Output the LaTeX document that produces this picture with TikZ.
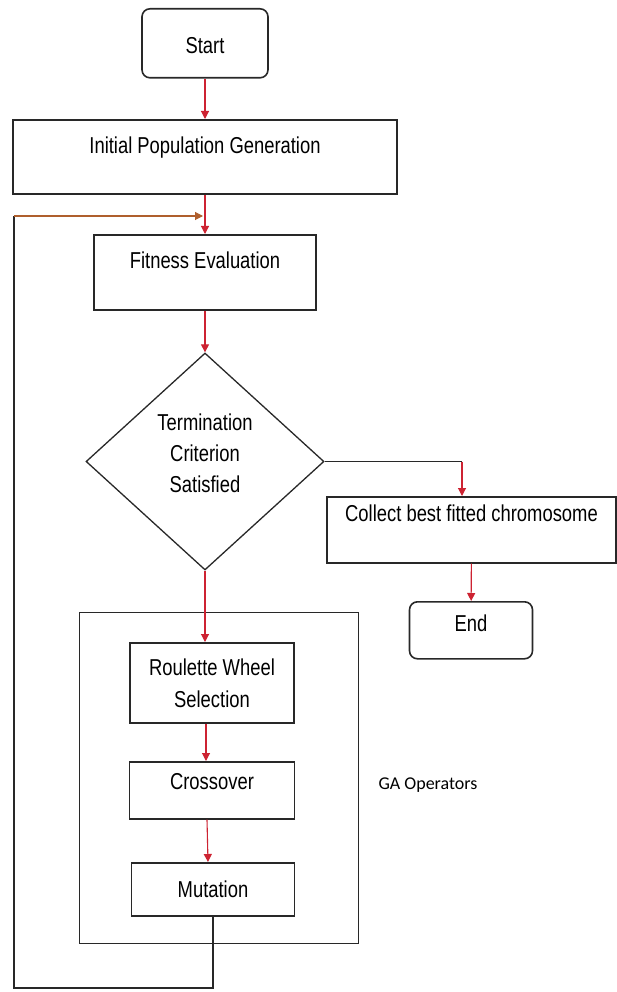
\documentclass[tikz,border=0pt]{standalone}
\usepackage{fontspec}
\setmainfont{Liberation Sans}[FakeStretch=0.80]
\newfontfamily\gafont{Carlito}
\usetikzlibrary{shapes.geometric,arrows.meta}
\definecolor{arrred}{RGB}{205,35,50}
\definecolor{loopbrown}{RGB}{175,95,45}
\definecolor{edgegray}{RGB}{40,40,40}
\tikzset{
  box/.style={draw=edgegray, line width=1.6pt, minimum width=#1, inner sep=0pt, anchor=north},
  term/.style={box=#1, rounded corners=8pt},
  link/.style={draw=arrred, line width=1.1pt, -{Triangle[width=8pt,length=8pt]}},
  back/.style={draw=loopbrown, line width=1.1pt, -{Triangle[width=8pt,length=8pt]}},
  plain/.style={draw=edgegray, line width=1.1pt}
}
\begin{document}
\begin{tikzpicture}[x=1pt,y=-1pt,font=\fontsize{23}{32}\selectfont]
\useasboundingbox (0,0) rectangle (617,992);
\node[term=126pt, text height=45pt, text depth=24pt] (start) at (205,8) {Start};
\node[box=384pt, text height=34pt, text depth=40pt] (init) at (205,119) {Initial Population Generation};
\node[box=222pt, text height=34pt, text depth=41pt] (fit) at (205,234) {Fitness Evaluation};
\node[draw=edgegray, line width=1.3pt, diamond, inner sep=0pt, minimum width=238pt, minimum height=217pt, align=center, font=\fontsize{23}{31}\selectfont, text depth=16pt] (term) at (205,461.5) {Termination\\Criterion\\Satisfied};
\node[box=289pt, text height=25pt, text depth=41pt] (collect) at (471.5,496) {Collect best fitted chromosome};
\node[term=123pt, text height=30pt, text depth=27pt] (stop) at (471,601) {End};
\node[box=279pt, minimum height=331pt, anchor=north west, line width=1.3pt] (ga) at (79,612) {};
\node[font=\gafont\fontsize{18}{20}\selectfont] (galabel) at (428,785) {GA Operators};
\node[box=164pt, minimum height=80pt, align=center] (rws) at (212,642) {Roulette Wheel\\Selection};
\node[box=165pt, text height=28pt, text depth=29pt] (cross) at (212,761) {Crossover};
\node[box=163pt, text height=35pt, text depth=18pt] (mut) at (213,862) {Mutation};
\coordinate (join) at (203,216);
\coordinate (lefttop) at (14,216);
\coordinate (bottom) at (14,988);
\coordinate (turn) at ([xshift=-9.5pt]collect.north |- term.east);
\draw[link] (start) -- (init);
\draw[link] (init) -- (fit);
\draw[link] (fit) -- (term);
\draw[plain] (term.east) -- (turn);
\draw[link] (turn) -- (turn |- collect.north);
\draw[link] (collect) -- (stop);
\draw[link] (term.south) -- (term.south |- rws.north);
\draw[link] ([xshift=-6pt]rws.south) -- ([xshift=-6pt]cross.north);
\draw[link] ([xshift=-5pt]cross.south) -- ([xshift=-5pt]mut.north);
\draw[plain] (mut.south) |- (bottom) -- (lefttop);
\draw[back] (lefttop) -- (join);
\end{tikzpicture}
\end{document}
